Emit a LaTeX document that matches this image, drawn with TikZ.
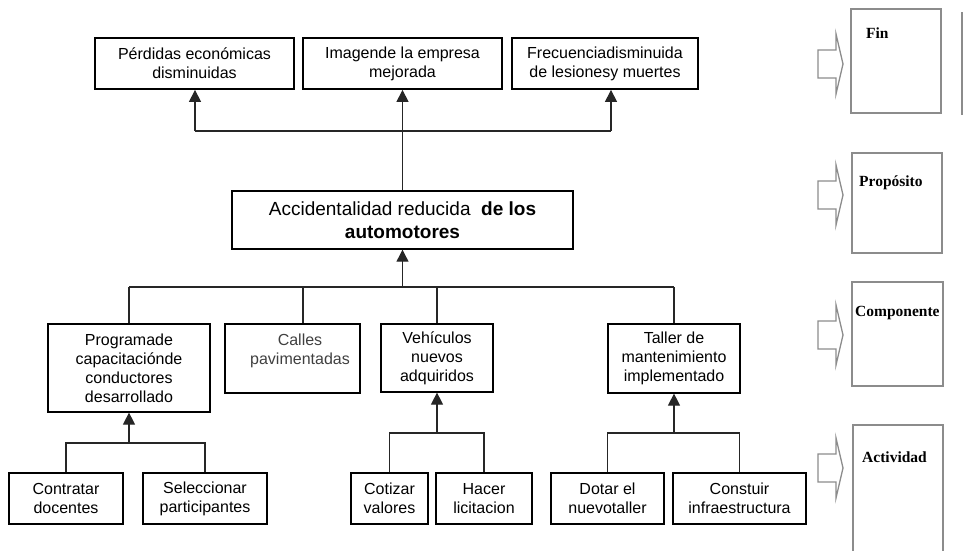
\documentclass[tikz,border=0pt]{standalone}
\usepackage{fontspec}
\setmainfont{Liberation Sans}
\newfontfamily\tierfont{Liberation Serif}
\usetikzlibrary{arrows.meta}

\tikzset{
    goal/.style={draw, line width=1.8pt, align=center, inner sep=0pt, font=\fontsize{16}{19}\selectfont},
    part/.style={draw, line width=1.2pt, align=center, inner sep=0pt, font=\fontsize{16}{19}\selectfont},
    link/.style={line width=1.2pt, draw=black!85},
    uparrow/.style={link, -{Triangle[width=12pt,length=12pt]}},
    tier/.style={draw=black!45, line width=1.3pt},
    tiertext/.style={anchor=west, inner sep=0pt, font=\tierfont\bfseries\fontsize{15.5}{18}\selectfont},
}

\begin{document}
\begin{tikzpicture}[x=1pt, y=-1pt]
    \useasboundingbox (0,0) rectangle (963,550);

    % fin
    \node[goal, minimum width=199pt, minimum height=51pt] (perdidas) at (194.5,63.5) {Pérdidas económicas\\disminuidas};
    \node[goal, minimum width=199pt, minimum height=51pt] (imagen) at (402.5,63.5) {Imagende la empresa\\mejorada};
    \node[goal, minimum width=186pt, minimum height=51pt] (frecuencia) at (605,63.5) {Frecuenciadisminuida\\de lesionesy muertes};

    % proposito
    \node[part, line width=1.4pt, minimum width=341pt, minimum height=58pt, font=\fontsize{19}{23}\selectfont] (accidentes) at (402.5,220)
        {Accidentalidad reducida \ \textbf{de los}\\\textbf{automotores}};

    % componentes
    \node[part, minimum width=162pt, minimum height=88pt] (programa) at (129,368) {Programade\\capacitaciónde\\conductores\\desarrollado};
    \node[part, minimum width=135pt, minimum height=69pt, text=black!75] (calles) at (292.5,358.5) {\hspace*{15pt}Calles\\\hspace*{15pt}pavimentadas\\\mbox{}};
    \node[part, minimum width=112pt, minimum height=68pt] (vehiculos) at (437,358) {Vehículos\\nuevos\\adquiridos};
    \node[part, minimum width=132pt, minimum height=69pt] (taller) at (674,358.5) {Taller de\\mantenimiento\\implementado};

    % actividades
    \node[part, minimum width=114pt, minimum height=51pt] (contratar) at (66,498.5) {Contratar\\docentes};
    \node[part, minimum width=124pt, minimum height=51pt] (seleccionar) at (205,498.5) {Seleccionar\\participantes};
    \node[part, minimum width=77pt, minimum height=51pt] (cotizar) at (389.5,498.5) {Cotizar\\valores};
    \node[part, minimum width=96pt, minimum height=51pt] (hacer) at (484,498.5) {Hacer\\licitacion};
    \node[part, minimum width=113pt, minimum height=51pt] (dotar) at (607.5,498.5) {Dotar el\\nuevotaller};
    \node[part, minimum width=133pt, minimum height=51pt] (construir) at (739.5,498.5) {Constuir\\infraestructura};

    % lineas de arriba
    \coordinate (topleft) at (195,131);
    \coordinate (topright) at (611,131);
    \draw[link] (topleft) -- (topright);
    \draw[uparrow] (topleft) -- (topleft |- perdidas.south);
    \draw[uparrow] (accidentes.north) -- (imagen.south);
    \draw[uparrow] (topright) -- (topright |- frecuencia.south);

    % lineas del medio
    \coordinate (midleft) at (129,287);
    \coordinate (midright) at (674,287);
    \coordinate (midcalles) at (303,287);
    \draw[link] (midleft) -- (midright);
    \draw[uparrow] (accidentes.south |- midleft) -- (accidentes.south);
    \draw[link] (midleft) -- (programa.north);
    \draw[link] (midcalles) -- (midcalles |- calles.north);
    \draw[link] (vehiculos.north |- midleft) -- (vehiculos.north);
    \draw[link] (midright) -- (taller.north);

    % lineas de abajo
    \coordinate (lowprograma) at (129,443);
    \coordinate (lowvehiculos) at (437,433);
    \coordinate (lowtaller) at (674,433);
    \draw[link] (contratar.north) |- (seleccionar.north |- lowprograma) -- (seleccionar.north);
    \draw[uparrow] (lowprograma) -- (programa.south);
    \draw[link] (cotizar.north) |- (hacer.north |- lowvehiculos) -- (hacer.north);
    \draw[uparrow] (lowvehiculos) -- (vehiculos.south);
    \draw[link] (dotar.north) |- (construir.north |- lowtaller) -- (construir.north);
    \draw[uparrow] (lowtaller) -- (taller.south);

    % niveles a la derecha
    \draw[tier] (818,50) -- ++(18,0) -- ++(0,-16) -- ++(7,30) -- ++(-7,30) -- ++(0,-16) -- ++(-18,0) -- cycle;
    \draw[tier] (851,9) rectangle (941,113);
    \node[tiertext] (fin) at (866,33) {Fin};
    \draw[tier] (962,12) -- (962,115);

    \draw[tier] (818,181) -- ++(18,0) -- ++(0,-16) -- ++(7,30) -- ++(-7,30) -- ++(0,-16) -- ++(-18,0) -- cycle;
    \draw[tier] (852,153) rectangle (942,253);
    \node[tiertext] (proposito) at (859,183) {Propósito};

    \draw[tier] (818,321) -- ++(18,0) -- ++(0,-16) -- ++(7,30) -- ++(-7,30) -- ++(0,-16) -- ++(-18,0) -- cycle;
    \draw[tier] (852,282) rectangle (943,386);
    \node[tiertext] (componente) at (855,313) {Componente};

    \draw[tier] (818,454) -- ++(18,0) -- ++(0,-16) -- ++(7,30) -- ++(-7,30) -- ++(0,-16) -- ++(-18,0) -- cycle;
    \draw[tier] (853,556) -- (853,425) -- (943,425) -- (943,556);
    \node[tiertext] (actividad) at (862,457) {Actividad};
\end{tikzpicture}
\end{document}
